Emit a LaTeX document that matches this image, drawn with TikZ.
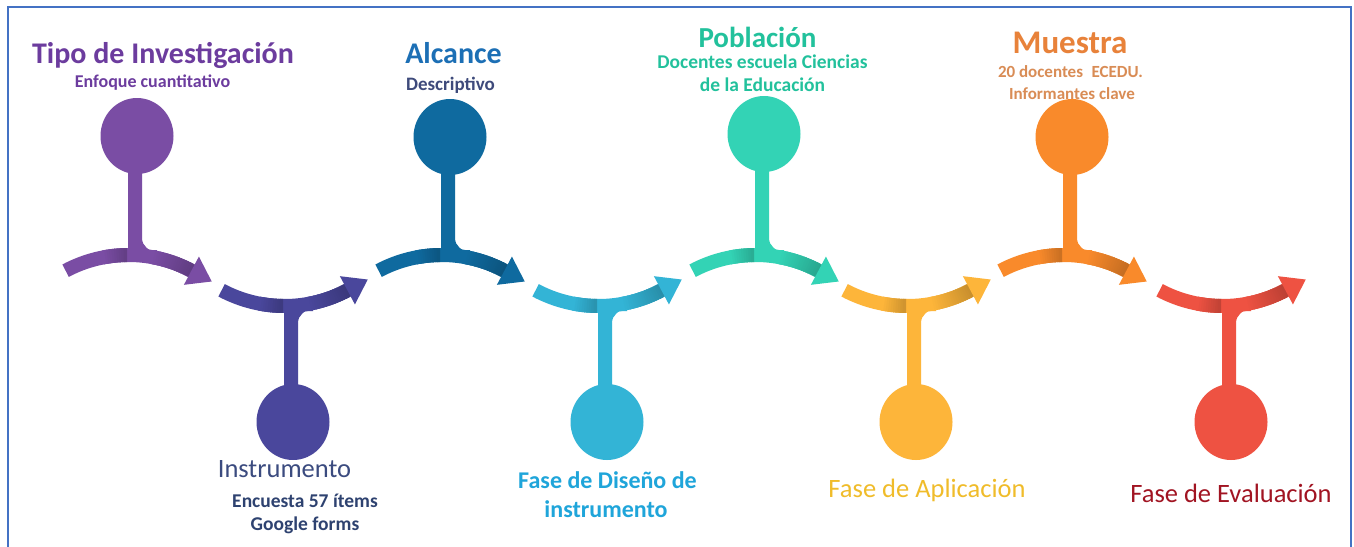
\documentclass[tikz,border=0pt]{standalone}
\usepackage{fontspec}
\setmainfont{Carlito}
\usetikzlibrary{shapes.geometric,calc}

\definecolor{cPur}{HTML}{7A4DA4}
\definecolor{cInd}{HTML}{4A479C}
\definecolor{cDbl}{HTML}{0F6A9F}
\definecolor{cCya}{HTML}{33B4D6}
\definecolor{cTea}{HTML}{33D3B5}
\definecolor{cYel}{HTML}{FDB53A}
\definecolor{cOra}{HTML}{F98A2B}
\definecolor{cRed}{HTML}{EE5242}
\definecolor{tPur}{HTML}{6C3C9E}
\definecolor{tBlu}{HTML}{1C6FB5}
\definecolor{tSla}{HTML}{3E4A7B}
\definecolor{tTea}{HTML}{22C19C}
\definecolor{tOra}{HTML}{E8823A}
\definecolor{tOrl}{HTML}{D98C55}
\definecolor{tIns}{HTML}{3B4B7F}
\definecolor{tEnc}{HTML}{2E4270}
\definecolor{tCya}{HTML}{1FA5DA}
\definecolor{tYel}{HTML}{F0BC2A}
\definecolor{tRed}{HTML}{A11422}
\definecolor{bord}{HTML}{4472C4}

\newcommand\fsz[1]{\fontsize{#1}{#1}\selectfont}

% arc segment of the band between two angles
\newcommand\bandseg[3]{%
  \draw[#1, line width=14pt] (-8.5,-389) ++(#2:134)
    arc[start angle=#2, end angle=#3, radius=134];}

% #1 centre x, #2 colour, #3 name, #4 shift y, #5 yscale, #6 circle local y
\newcommand\stepunit[6]{%
  \begin{scope}[shift={(#1,#4)}, yscale=#5]
    \bandseg{#2}{118}{62}
    \foreach \a in {101,100,...,92}{%
      \pgfmathsetmacro\pc{100-2*(101-\a)}%
      \bandseg{#2!\pc!black}{\a}{\a-1.4}}
    \foreach \a in {80,79,...,63}{%
      \pgfmathsetmacro\pc{100-1.2*(80-\a)}%
      \bandseg{#2!\pc!black}{\a}{\a-1.4}}
    \fill[#2] (-9,-165) -- (-9,-250) -- (20,-250) -- (20,-252)
      to[out=175,in=-90] (5,-238) -- (5,-165) -- cycle;
    \fill[#2] ($(-8.5,-389)+(62:150)$) -- ($(-8.5,-389)+(62:134)+(-28:23)$)
      -- ($(-8.5,-389)+(62:118)$) -- cycle;
    \node[bubble=#2] (#3) at (0,#6) {};
  \end{scope}}

\tikzset{
  bubble/.style={ellipse, minimum width=73pt, minimum height=76pt,
    inner sep=0pt, fill=#1},
  lbl/.style={anchor=base, inner sep=0pt, text=#1},
}

\begin{document}
\begin{tikzpicture}[x=1pt,y=1pt]
\useasboundingbox (0,0) rectangle (1354,-546);
\clip (0,0) rectangle (1354,-546);
\fill[white] (0,0) rectangle (1354,-546);
\draw[bord, line width=2pt] (8,-7) rectangle (1351,-620);

\stepunit{137}{cPur}{b1}{0}{1}{-136}
\stepunit{293}{cInd}{b2}{-561}{-1}{-139}
\stepunit{450}{cDbl}{b3}{0}{1}{-137}
\stepunit{607}{cCya}{b4}{-561}{-1}{-139}
\stepunit{764}{cTea}{b5}{0}{1}{-134}
\stepunit{916}{cYel}{b6}{-561}{-1}{-139}
\stepunit{1072}{cOra}{b7}{0}{1}{-137}
\stepunit{1231}{cRed}{b8}{-561}{-1}{-139}

\node[lbl=tPur, font=\fsz{30}\bfseries] (t1) at (163,-63) {Tipo de Investigación};
\node[lbl=tPur, font=\fsz{18}\bfseries] (t1s) at (152.5,-87) {Enfoque cuantitativo};
\node[lbl=tBlu, font=\fsz{30}\bfseries] (t3) at (453.5,-63) {Alcance};
\node[lbl=tSla, font=\fsz{19}\bfseries] (t3s) at (450.5,-90) {Descriptivo};
\node[lbl=tTea, font=\fsz{29}\bfseries] (t5) at (757.5,-47) {Población};
\node[lbl=tTea, font=\fsz{19.5}\bfseries] (t5s) at (762.5,-68) {Docentes escuela Ciencias};
\node[lbl=tTea, font=\fsz{19.5}\bfseries] (t5t) at (762.5,-91) {de la Educación};
\node[lbl=tOra, font=\fsz{33}\bfseries] (t7) at (1070,-53) {Muestra};
\node[lbl=tOrl, font=\fsz{17}\bfseries] (t7s) at (1070.5,-77) {20 docentes\hspace{0.5em}ECEDU.};
\node[lbl=tOrl, font=\fsz{17}\bfseries] (t7t) at (1072,-99) {Informantes clave};
\node[lbl=tIns, font=\fsz{26.5}] (t2) at (284.5,-477) {Instrumento};
\node[lbl=tEnc, font=\fsz{19.5}\bfseries] (t2s) at (305,-507) {Encuesta 57 ítems};
\node[lbl=tEnc, font=\fsz{19.5}\bfseries] (t2t) at (305,-530) {Google forms};
\node[lbl=tCya, font=\fsz{24}\bfseries] (t4) at (607.5,-488) {Fase de Diseño de};
\node[lbl=tCya, font=\fsz{24}\bfseries] (t4s) at (606,-517) {instrumento};
\node[lbl=tYel, font=\fsz{26.5}] (t6) at (927,-497) {Fase de Aplicación};
\node[lbl=tRed, font=\fsz{26.5}] (t8) at (1231,-502) {Fase de Evaluación};
\end{tikzpicture}
\end{document}
